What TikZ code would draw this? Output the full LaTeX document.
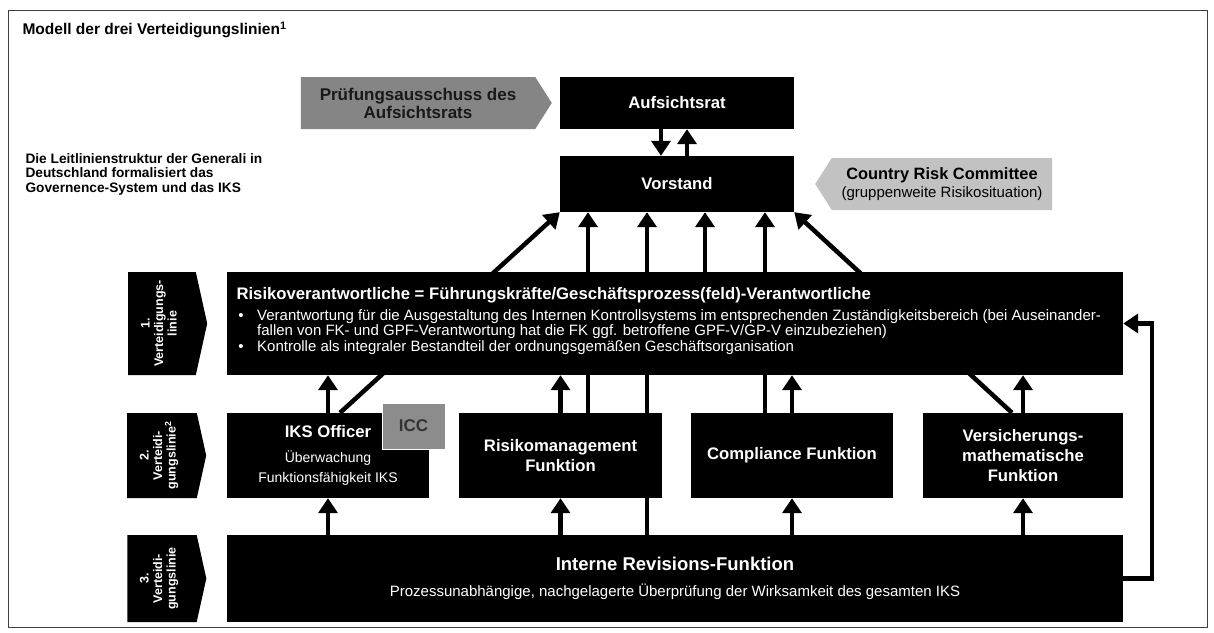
\documentclass[tikz,border=0pt]{standalone}
\usepackage{fontspec}
\setmainfont{Liberation Sans}
\usetikzlibrary{shapes.symbols,arrows.meta}
\pgfdeclarelayer{bg}
\pgfsetlayers{bg,main}

\begin{document}
\begin{tikzpicture}[x=1pt,y=-1pt,
    box/.style={fill=black, text=white, align=center, inner sep=0pt,
      font=\fontsize{16.7}{20}\selectfont\bfseries},
    linie/.style={signal, signal to=east, signal pointer angle=155,
      fill=black, inner sep=0pt, minimum width=79pt},
    linietext/.style={rotate=90, text=white, align=center,
      font=\fontsize{12.5}{13.5}\selectfont\bfseries},
    gremium/.style={signal, signal pointer angle=115, inner sep=0pt,
      align=center, minimum height=52pt},
    flow/.style={line width=4.5pt, -{Triangle[width=19pt,length=15pt]}}]

  \useasboundingbox (0,0) rectangle (1214,632);
  \draw[line width=1pt, black!75] (8,10) rectangle (1207,627);

  \node[anchor=west, font=\fontsize{15.5}{18}\selectfont\bfseries] (titel) at (19,30)
    {Modell der drei Verteidigungslinien\textsuperscript{1}};

  % Aufsicht und Vorstand
  \node[gremium, signal to=east, fill=black!48, text=black!90, minimum width=251pt,
    font=\fontsize{17}{18}\selectfont\bfseries] (pruef) at (418,103)
    {Prüfungsausschuss des\\Aufsichtsrats};
  \node[box, minimum width=234pt, minimum height=52pt] (auf) at (677,103) {Aufsichtsrat};
  \node[box, minimum width=234pt, minimum height=56pt] (vor) at (677,184) {Vorstand};
  \node[gremium, signal to=west, fill=black!24, text=black, minimum width=237pt,
    font=\fontsize{16.4}{18}\selectfont\bfseries] (crc) at (942,184)
    {Country Risk Committee\\\mdseries\fontsize{15}{18}\selectfont(gruppenweite Risikosituation)};

  \node[anchor=west, align=left, font=\fontsize{13.7}{14.5}\selectfont\bfseries] (hinweis) at (22,174)
    {Die Leitlinienstruktur der Generali in\\Deutschland formalisiert das\\Governence-System und das IKS};

  % 1. Linie
  \node[linie, minimum height=103pt] (lab1) at (162,323.5) {};
  \node[linietext] (lab1t) at (159,323.5) {1.\\Verteidigungs-\\linie};
  \node[box, minimum width=896pt, minimum height=103pt] (l1) at (675,323.5) {};
  \node[anchor=west, text=white, font=\fontsize{16.7}{18}\selectfont\bfseries] (l1titel) at (233,295)
    {Risikoverantwortliche = Führungskräfte/Geschäftsprozess(feld)-Verantwortliche};
  \begin{scope}[every node/.style={text=white, font=\fontsize{15}{15}\selectfont}]
    \node (p1) at (241,317) {•};
    \node[anchor=north west, align=left, inner sep=0pt] (b1) at (257,309)
      {Verantwortung für die Ausgestaltung des Internen Kontrollsystems im entsprechenden Zuständigkeitsbereich (bei Auseinander-\\fallen von FK- und GPF-Verantwortung hat die FK ggf. betroffene GPF-V/GP-V einzubeziehen)};
    \node (p2) at (241,348) {•};
    \node[anchor=west, inner sep=0pt] (b2) at (257,348)
      {Kontrolle als integraler Bestandteil der ordnungsgemäßen Geschäftsorganisation};
  \end{scope}

  % 2. Linie
  \node[linie, minimum height=85pt] (lab2) at (162,455.5) {};
  \node[linietext] (lab2t) at (159,455.5) {2.\\Verteidi-\\gungslinie\textsuperscript{2}};
  \begin{scope}[every node/.style={box, minimum height=85pt}]
    \node[minimum width=202pt] (iks) at (328,455.5)
      {IKS Officer\\[5pt]\mdseries\fontsize{14}{18}\selectfont Überwachung\\
       \mdseries\fontsize{14}{18}\selectfont Funktionsfähigkeit IKS};
    \node[minimum width=203pt] (risk) at (560.5,455.5) {Risikomanagement\\Funktion};
    \node[minimum width=202pt] (comp) at (792,455.5) {Compliance Funktion};
    \node[minimum width=200pt] (vers) at (1023,455.5) {Versicherungs-\\mathematische\\Funktion};
  \end{scope}
  \node[fill=black!45, draw=white, line width=1pt, text=black!80, minimum width=63pt,
    minimum height=46pt, font=\fontsize{17}{18}\selectfont\bfseries] (icc) at (413.5,426) {ICC};

  % 3. Linie
  \node[linie, minimum height=87pt] (lab3) at (162,578.5) {};
  \node[linietext] (lab3t) at (159,578.5) {3.\\Verteidi-\\gungslinie};
  \node[box, minimum width=896pt, minimum height=87pt, font=\fontsize{18.5}{26}\selectfont\bfseries] (rev) at (675,578.5)
    {Interne Revisions-Funktion\\\mdseries\fontsize{15}{17}\selectfont Prozessunabhängige, nachgelagerte Überprüfung der Wirksamkeit des gesamten IKS};

  % Berichtslinien
  \coordinate (xr) at (588,0);
  \coordinate (xv) at (647,0);
  \coordinate (xl) at (705,0);
  \coordinate (xc) at (765,0);

  \begin{pgfonlayer}{bg}
    \draw[flow] ([xshift=-16pt]auf.south) -- ([xshift=-16pt]vor.north);
    \draw[flow] ([xshift=10pt]vor.north) -- ([xshift=10pt]auf.south);

    \draw[flow] ([xshift=12pt]iks.north) -- (vor.south west);
    \draw[flow] (risk.north -| xr) -- (vor.south -| xr);
    \draw[flow] (rev.north -| xv) -- (vor.south -| xv);
    \draw[flow] (l1.north -| xl) -- (vor.south -| xl);
    \draw[flow] (comp.north -| xc) -- (vor.south -| xc);
    \draw[flow] ([xshift=-11pt]vers.north) -- (vor.south east);

    \foreach \f in {iks,risk,comp,vers} {
      \draw[flow] (\f.north) -- (\f.north |- l1.south);
      \draw[flow] (rev.north -| \f) -- (\f.south);
    }

    \draw[flow] (rev.east) -- ++(29,0) |- (l1.east);
  \end{pgfonlayer}
\end{tikzpicture}
\end{document}
